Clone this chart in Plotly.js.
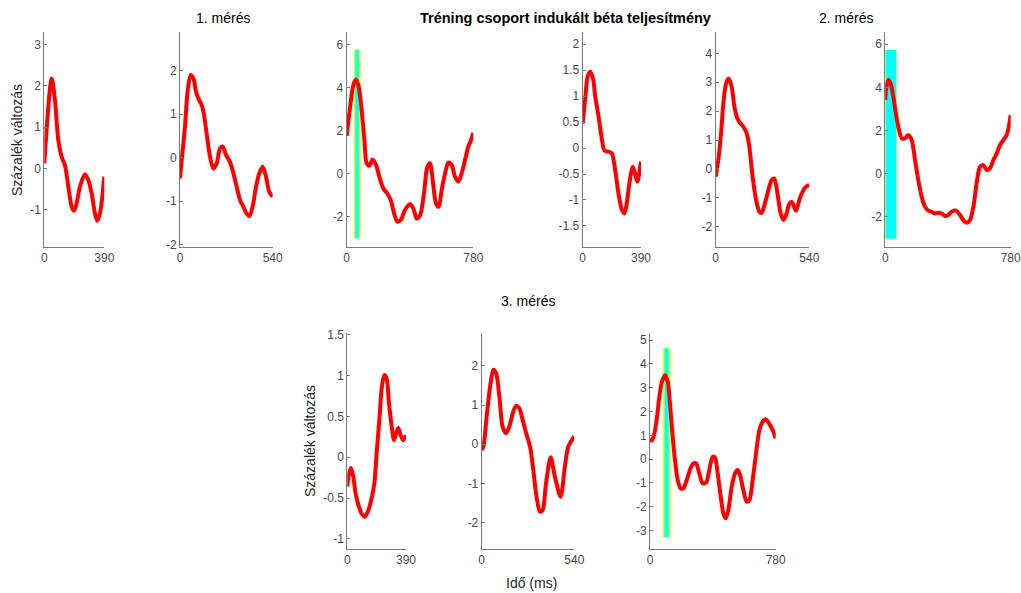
<!DOCTYPE html>
<html>
<head>
<meta charset="utf-8">
<script src="https://cdn.plot.ly/plotly-3.0.1.min.js"></script>
<style>html,body{margin:0;padding:0;background:#fff;}#chart{width:1021px;height:593px;}</style>
</head>
<body>
<div id="chart"></div>
<script>
// ---- data (time in ms, value in % change) ----
const t1 = [0, 48, 69, 91, 113, 134, 156, 178, 193, 210, 232, 264, 286, 308, 329, 344, 362, 390];
const v1 = [0.12, 2.18, 1.66, 0.69, 0.28, 0.08, -0.44, -0.93, -1.03, -0.85, -0.44, -0.14, -0.28, -0.61, -1.09, -1.27, -1.09, -0.2];

const t2 = [0, 10, 29, 45, 62, 78, 93, 107, 126, 140, 155, 175, 194, 214, 233, 249, 268, 291, 311, 330, 350, 369, 388, 404, 423, 443, 462, 482, 501, 520, 540];
const v2 = [-0.48, -0.06, 0.71, 1.55, 1.9, 1.82, 1.52, 1.36, 1.21, 0.98, 0.56, 0.02, -0.25, -0.13, 0.21, 0.25, 0.06, -0.1, -0.36, -0.67, -0.98, -1.13, -1.29, -1.35, -1.13, -0.67, -0.36, -0.21, -0.44, -0.79, -0.9];

const t3 = [0, 21, 41, 57, 74, 92, 109, 123, 140, 160, 181, 201, 226, 250, 271, 292, 312, 333, 359, 390, 411, 431, 452, 476, 497, 513, 530, 550, 567, 585, 606, 626, 647, 667, 688, 708, 729, 749, 766, 780];
const v3 = [1.75, 3.1, 4.11, 4.37, 4.03, 2.95, 1.56, 0.48, 0.37, 0.66, 0.4, -0.14, -0.69, -0.92, -1.22, -1.84, -2.23, -2.15, -1.69, -1.41, -1.62, -2.08, -1.93, -0.92, 0.32, 0.48, -0.3, -1.38, -1.54, -0.76, 0.01, 0.51, 0.4, -0.14, -0.37, 0.01, 0.63, 1.25, 1.56, 1.9];

const t4 = [0, 18, 33, 51, 69, 84, 106, 129, 146, 173, 195, 217, 239, 261, 279, 295, 312, 335, 350, 366, 383, 390];
const v4 = [0.47, 0.99, 1.38, 1.47, 1.34, 0.99, 0.61, 0.16, -0.05, -0.07, -0.1, -0.42, -0.87, -1.18, -1.26, -1.06, -0.68, -0.36, -0.49, -0.65, -0.39, -0.26];

const t5 = [0, 15, 31, 44, 60, 75, 92, 108, 125, 140, 160, 179, 194, 213, 233, 252, 265, 284, 304, 323, 338, 356, 375, 392, 409, 425, 440, 463, 486, 515, 540];
const v5 = [-0.27, 0.31, 1.23, 2.27, 2.96, 3.13, 2.85, 2.16, 1.75, 1.6, 1.46, 1.23, 0.77, -0.27, -1.08, -1.48, -1.52, -1.19, -0.73, -0.38, -0.33, -0.84, -1.54, -1.77, -1.54, -1.2, -1.15, -1.45, -1.0, -0.65, -0.55];

const t6 = [0, 4, 19, 33, 50, 66, 81, 102, 122, 143, 164, 185, 205, 226, 247, 268, 288, 309, 330, 351, 371, 392, 413, 440, 465, 485, 506, 527, 548, 568, 589, 610, 631, 651, 672, 693, 714, 734, 755, 772, 780];
const v6 = [3.41, 3.87, 4.34, 4.18, 3.56, 2.79, 2.18, 1.64, 1.64, 1.79, 1.56, 0.63, -0.29, -1.06, -1.53, -1.71, -1.76, -1.84, -1.81, -1.84, -1.96, -1.91, -1.76, -1.71, -1.91, -2.15, -2.27, -2.15, -1.53, -0.45, 0.32, 0.4, 0.17, 0.25, 0.63, 0.94, 1.33, 1.56, 1.79, 2.33, 2.72];

const t7 = [0, 7, 24, 40, 55, 73, 95, 117, 140, 162, 180, 195, 213, 230, 246, 261, 277, 295, 310, 324, 339, 355, 372, 390];
const v7 = [-0.36, -0.24, -0.13, -0.24, -0.44, -0.58, -0.69, -0.73, -0.65, -0.5, -0.32, 0.05, 0.46, 0.87, 1.01, 0.97, 0.66, 0.38, 0.21, 0.29, 0.36, 0.27, 0.21, 0.27];

const t8 = [0, 10, 29, 49, 68, 84, 103, 122, 142, 161, 181, 200, 219, 239, 262, 282, 301, 320, 340, 355, 375, 402, 427, 460, 485, 505, 540];
const v8 = [-0.14, -0.06, 0.71, 1.47, 1.9, 1.81, 1.22, 0.45, 0.28, 0.45, 0.79, 0.98, 0.92, 0.62, 0.24, -0.06, -0.66, -1.34, -1.72, -1.68, -1.0, -0.33, -0.83, -1.34, -0.57, -0.06, 0.2];

const t9 = [0, 10, 25, 41, 58, 74, 93, 110, 124, 139, 155, 172, 190, 207, 228, 248, 269, 286, 306, 327, 348, 368, 389, 403, 420, 439, 455, 470, 486, 507, 528, 544, 559, 579, 600, 617, 637, 658, 679, 699, 720, 745, 766, 780];
const v9 = [0.87, 0.77, 1.01, 1.64, 2.62, 3.25, 3.53, 3.25, 2.34, 1.08, -0.04, -0.88, -1.23, -1.23, -0.88, -0.46, -0.18, -0.18, -0.6, -1.02, -0.99, -0.46, 0.1, 0.07, -0.6, -1.58, -2.28, -2.49, -2.14, -1.16, -0.6, -0.46, -0.67, -1.3, -1.79, -1.72, -0.88, 0.24, 1.22, 1.57, 1.67, 1.43, 1.15, 0.87];

// time-axis ends and y-axis limits per panel
const tMax = [390, 540, 780, 390, 540, 780, 390, 540, 780];
const yLo = [-1.9, -2.05, -3.39, -1.9, -2.69, -3.38, -1.125, -2.67, -3.78];
const yHi = [3.3, 2.88, 6.56, 2.23, 4.73, 6.55, 1.52, 2.83, 5.29];
const yStep = [1, 1, 2, 0.5, 1, 2, 0.5, 1, 1];

// significant windows (panel index, outer start/end, inner start/end, y bottom/top)
const winPanel = [3, 6, 9];
const winOuterStart = [43, 0, 79];
const winOuterEnd = [86, 71, 128];
const winInnerStart = [55, 2, 93];
const winInnerEnd = [73, 68, 114];
const winYLo = [-3.0, -3.0, -3.28];
const winYHi = [5.75, 5.73, 4.65];

// text
const mainTitle = "Tréning csoport indukált béta teljesítmény";
const sessionTitles = ["1. mérés", "2. mérés", "3. mérés"];
const yTitle = "Százalék változás";
const xTitle = "Idő (ms)";

// ---- layout geometry (pixels) ----
const W = 1021, H = 593;
const colPx = [[44.3, 104.3], [180, 272.7], [346.7, 473.3], [582.7, 641], [715.7, 809.3], [885.3, 1010.7],
               [347.3, 406], [481.7, 574.3], [650, 775.7]];
const rowPx = [[32.3, 246.7], [333.3, 549]];

const T = [t1, t2, t3, t4, t5, t6, t7, t8, t9];
const V = [v1, v2, v3, v4, v5, v6, v7, v8, v9];

const traces = [];
const layout = {
  width: W, height: H,
  margin: {l: 0, r: 0, t: 0, b: 0},
  paper_bgcolor: '#fff', plot_bgcolor: 'rgba(0,0,0,0)',
  showlegend: false,
  font: {family: 'Liberation Sans, Arial, sans-serif', size: 11.5, color: '#404040'},
  shapes: [], annotations: []
};

const axisColor = '#7a7a7a';
for (let i = 0; i < 9; i++) {
  const n = i + 1;
  const sfx = n === 1 ? '' : String(n);
  const row = i < 6 ? rowPx[0] : rowPx[1];
  traces.push({
    x: T[i], y: V[i], xaxis: 'x' + sfx, yaxis: 'y' + sfx,
    type: 'scatter', mode: 'lines',
    line: {color: '#ff0000', width: 4, shape: 'spline', smoothing: 0.8},
    hoverinfo: 'skip'
  });
  const ticks = [];
  for (let v = Math.ceil(yLo[i] / yStep[i]) * yStep[i]; v <= yHi[i] + 1e-9; v += yStep[i]) ticks.push(Math.round(v * 100) / 100);
  layout['xaxis' + sfx] = {
    domain: [colPx[i][0] / W, colPx[i][1] / W],
    range: [0, tMax[i]], anchor: 'y' + sfx,
    tickvals: [0, tMax[i]], ticktext: ['0', String(tMax[i])],
    ticks: 'inside', ticklen: 3, tickcolor: axisColor,
    showline: true, linecolor: axisColor, linewidth: 1,
    showgrid: false, zeroline: false, fixedrange: true,
    ticklabeloverflow: 'allow',
    tickfont: {size: 12, color: '#4a4a4a'}
  };
  layout['yaxis' + sfx] = {
    domain: [1 - row[1] / H, 1 - row[0] / H],
    range: [yLo[i], yHi[i]], anchor: 'x' + sfx,
    tickvals: ticks, ticktext: ticks.map(v => String(v)),
    ticks: 'inside', ticklen: 3, tickcolor: axisColor,
    showline: true, linecolor: axisColor, linewidth: 1,
    showgrid: false, zeroline: false, fixedrange: true,
    ticklabeloverflow: 'allow',
    tickfont: {size: 12, color: '#4a4a4a'}
  };
}

// windows
for (let k = 0; k < winPanel.length; k++) {
  const n = winPanel[k];
  const sfx = n === 1 ? '' : String(n);
  const mid = (winInnerStart[k] - winOuterStart[k]) / 2;
  const mid2 = (winOuterEnd[k] - winInnerEnd[k]) / 2;
  const base = {type: 'rect', xref: 'x' + sfx, yref: 'y' + sfx, y0: winYLo[k], y1: winYHi[k], layer: 'below', line: {width: 0}};
  layout.shapes.push(Object.assign({}, base, {x0: winOuterStart[k], x1: winOuterEnd[k], fillcolor: '#ffff00'}));
  layout.shapes.push(Object.assign({}, base, {x0: winOuterStart[k] + mid, x1: winOuterEnd[k] - mid2, fillcolor: '#80ff80'}));
  layout.shapes.push(Object.assign({}, base, {x0: winInnerStart[k], x1: winInnerEnd[k], fillcolor: '#00ffff'}));
}

function ann(text, px, py, opts) {
  return Object.assign({
    text: text, xref: 'paper', yref: 'paper', x: px / W, y: 1 - py / H,
    xanchor: 'center', yanchor: 'middle', showarrow: false,
    font: {family: 'Liberation Sans, Arial, sans-serif', size: 14, color: '#000'}
  }, opts || {});
}
layout.annotations.push(ann('<b>' + mainTitle + '</b>', 565, 18, {font: {family: 'Liberation Sans, Arial, sans-serif', size: 14.5, color: '#000'}}));
layout.annotations.push(ann(sessionTitles[0], 223, 18));
layout.annotations.push(ann(sessionTitles[1], 846, 18));
layout.annotations.push(ann(sessionTitles[2], 528, 301));
layout.annotations.push(ann(yTitle, 17, 140, {textangle: -90, font: {family: 'Liberation Sans, Arial, sans-serif', size: 14, color: '#262626'}}));
layout.annotations.push(ann(yTitle, 310, 441, {textangle: -90, font: {family: 'Liberation Sans, Arial, sans-serif', size: 14, color: '#262626'}}));
layout.annotations.push(ann(xTitle, 531, 583, {font: {family: 'Liberation Sans, Arial, sans-serif', size: 14, color: '#262626'}}));

Plotly.newPlot('chart', traces, layout, {displayModeBar: false, staticPlot: true});
</script>
</body>
</html>
